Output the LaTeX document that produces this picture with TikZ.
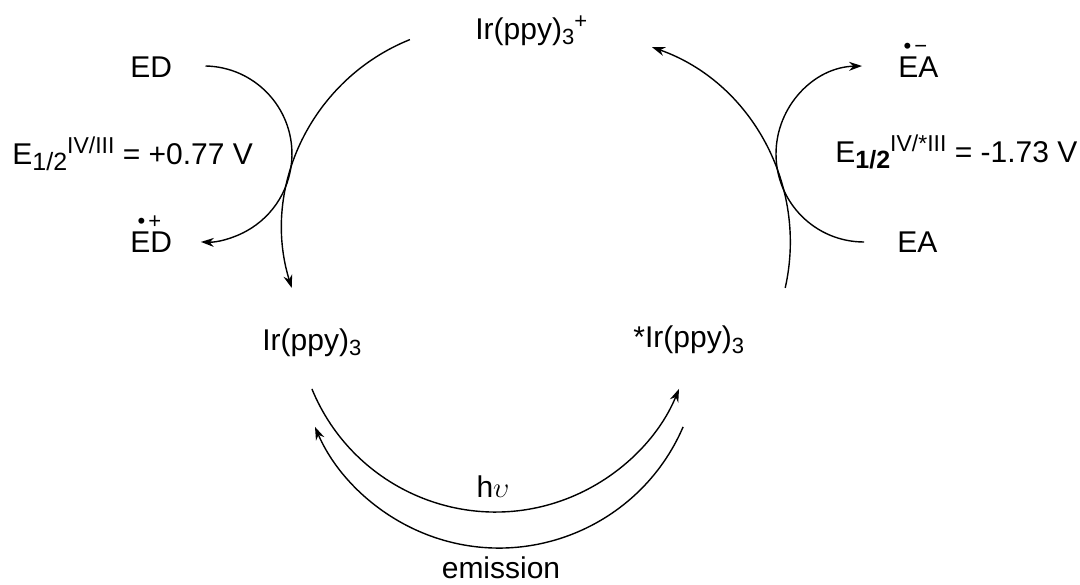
\documentclass[tikz,border=0pt]{standalone}
\usepackage{fontspec}
\setmainfont{Liberation Sans}
\usetikzlibrary{arrows.meta}

% radical mark over a species: shift, charge, text
\newcommand\rad[3]{\rlap{\hspace{#1}\raisebox{0.82em}{\fontsize{11}{11}\selectfont\textbullet\hspace{1.5pt}#2}}#3}
\newcommand\lo[1]{\raisebox{-3pt}{\fontsize{12.5}{12}\selectfont #1}}
\newcommand\hi[1]{\raisebox{5.5pt}{\fontsize{11.5}{12}\selectfont #1}}
\newcommand\ir{Ir(ppy)\raisebox{-2.5pt}{\fontsize{11}{12}\selectfont 3}}

\begin{document}
\begin{tikzpicture}[x=0.5pt,y=0.5pt,
  species/.style={anchor=base west,inner sep=0pt,font=\fontsize{15}{18}\selectfont},
  cyc/.style={line width=0.7pt,-{Stealth[length=6.5pt,width=4.5pt]}}]
\useasboundingbox (0,0) rectangle (1080,584);

% species
\node[species] (irox) at (475,544) {\ir\raisebox{5.5pt}{\fontsize{11}{11}\selectfont +}};
\node[species] (ed) at (130,506) {ED};
\node[species] (edox) at (130,331) {\rad{3.6pt}{+}{ED}};
\node[species] (irg) at (262,234) {\ir};
\node[species] (irex) at (633,236) {*\ir};
\node[species] (ea) at (897,331) {EA};
\node[species] (eared) at (898,506) {\rad{2.6pt}{−}{EA}};

% potentials
\node[species] (potl) at (12,419) {E\lo{1/2}\hi{IV/III} = +0.77 V};
\node[species] (potr) at (835,421) {E\lo{\textbf{1/2}}\hi{IV/*III} = -1.73 V};

% light
\node[species,anchor=base] (hv) at (493,87) {h$\upsilon$};
\node[species,anchor=base] (em) at (501,6) {emission};

% cycle
\coordinate (edS) at (205.5,518);
\coordinate (eaS) at (864,342);
\coordinate (oxS) at (409.9,544.4);
\coordinate (exS) at (785.2,296.1);
\coordinate (hvS) at (311.9,195.1);
\coordinate (emS) at (683.1,157.1);
\draw[cyc] (edS) arc[start angle=89,end angle=-92,radius=88];
\draw[cyc] (eaS) arc[start angle=-90,end angle=-268.7,radius=88];
\draw[cyc] (oxS) arc[start angle=111.9,end angle=197.2,radius=203];
\draw[cyc] (exS) arc[start angle=-12.7,end angle=70.6,radius=207];
\draw[cyc] (hvS) arc[start angle=202.3,end angle=337.7,radius=198.4];
\draw[cyc] (emS) arc[start angle=336.7,end angle=203.3,radius=200.4];
\end{tikzpicture}
\end{document}
